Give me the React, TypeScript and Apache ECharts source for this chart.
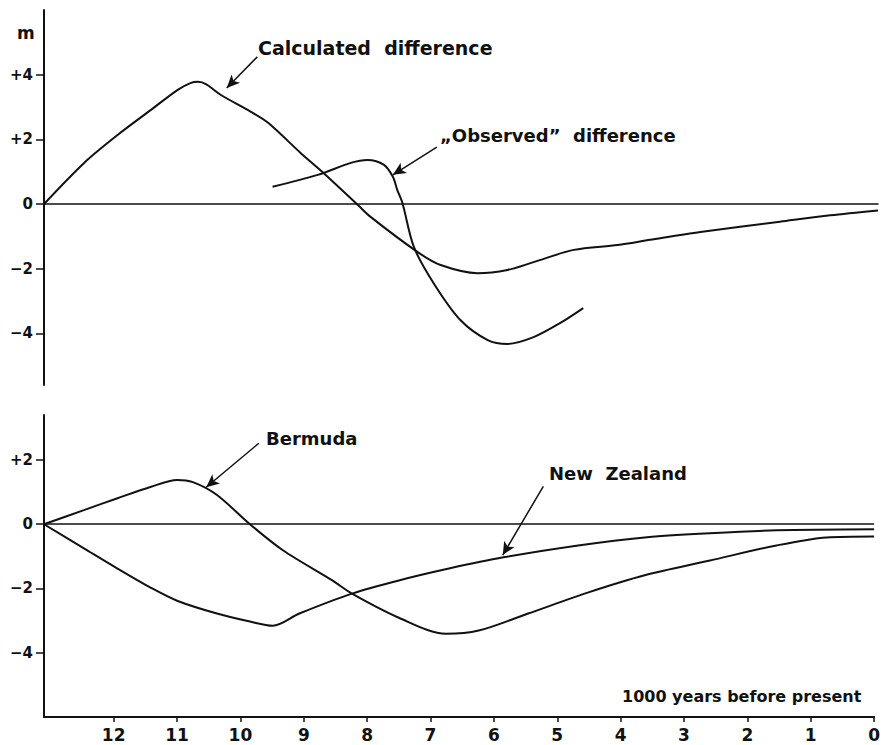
import React, { useEffect, useRef } from "react";
import * as echarts from "echarts";

// ---- Data (x = 1000 years before present, y = metres) ----
const xTicks = [0, 1, 2, 3, 4, 5, 6, 7, 8, 9, 10, 11, 12];
const yTicksTop = [-4, -2, 0, 2, 4];
const yTicksBottom = [-4, -2, 0, 2];

const calculatedX = [13.1, 12.47, 11.94, 11.42, 11.0, 10.8, 10.68, 10.55, 10.32, 9.85, 9.58, 9.07, 8.71, 8.17, 7.97, 7.23, 6.87, 6.29, 5.82, 5.41, 4.78, 4.09, 3.58, 2.79, 1.54, 0.75, 0];
const calculatedY = [0, 1.27, 2.14, 2.91, 3.53, 3.74, 3.78, 3.7, 3.37, 2.85, 2.51, 1.58, 0.96, -0.03, -0.4, -1.49, -1.89, -2.14, -2.04, -1.8, -1.42, -1.27, -1.11, -0.87, -0.55, -0.35, -0.2];

const observedX = [9.51, 8.8, 8.28, 8.02, 7.76, 7.62, 7.55, 7.47, 7.29, 6.98, 6.56, 6.13, 5.82, 5.41, 4.99, 4.63];
const observedY = [0.53, 0.9, 1.27, 1.36, 1.21, 0.84, 0.43, 0.03, -1.33, -2.45, -3.59, -4.21, -4.33, -4.12, -3.68, -3.22];

const bermudaX = [13.1, 12.47, 11.94, 11.42, 11.0, 10.75, 10.37, 9.85, 9.33, 8.55, 8.24, 7.5, 6.76, 6.24, 5.46, 4.52, 3.62, 2.59, 1.54, 0.75, 0];
const bermudaY = [0, 0.44, 0.81, 1.16, 1.38, 1.31, 0.91, 0, -0.81, -1.75, -2.16, -2.91, -3.41, -3.31, -2.78, -2.13, -1.59, -1.13, -0.66, -0.41, -0.38];

const newZealandX = [13.1, 12.47, 11.94, 11.42, 11.0, 10.37, 9.85, 9.49, 9.07, 8.24, 7.5, 6.71, 5.85, 4.67, 3.62, 2.59, 1.54, 0];
const newZealandY = [0, -0.75, -1.38, -1.97, -2.38, -2.78, -3.03, -3.16, -2.78, -2.16, -1.75, -1.38, -1.03, -0.66, -0.41, -0.28, -0.19, -0.16];

// annotation arrows (data coordinates: [from, to])
const calculatedArrow = [[9.75, 4.55], [10.23, 3.59]];
const observedArrow = [[6.93, 1.76], [7.62, 0.9]];
const bermudaArrow = [[9.71, 2.52], [10.54, 1.15]];
const newZealandArrow = [[5.22, 1.18], [5.86, -0.96]];

const zip = (xs: number[], ys: number[]) => xs.map((x, i) => [x, ys[i]]);

const FONT = "DejaVu Sans";
const INK = "#111";

const fmtY = (v: number) => (v > 0 ? "+" + v : v < 0 ? "\u2212" + Math.abs(v) : "0");

const arrowLine = (a: number[][]) => [
  { coord: a[0], symbol: "none" },
  { coord: a[1], symbol: "arrow", symbolSize: [9, 13] },
];

export default function App() {
  const ref = useRef<HTMLDivElement>(null);
  useEffect(() => {
    if (!ref.current) return;
    const chart = echarts.init(ref.current, undefined, { renderer: "svg" });
    const lineStyle = { color: INK, width: 2 };
    const yAxisBase = (gridIndex: number, min: number, max: number, ticks: number[]) => ({
      type: "value",
      gridIndex,
      min,
      max,
      axisLine: { show: true, onZero: false, lineStyle: { color: INK, width: 2 } },
      axisTick: { show: true, customValues: ticks, length: 8, lineStyle: { color: INK, width: 1.5 } },
      axisLabel: {
        customValues: ticks,
        formatter: fmtY,
        margin: 11,
        color: INK,
        fontFamily: FONT,
        fontWeight: "bold",
        fontSize: 15,
      },
      splitLine: { show: false },
    });
    const markLineBase = {
      silent: true,
      animation: false,
      label: { show: false },
      lineStyle: { color: INK, width: 1.5, type: "solid" },
      emphasis: { disabled: true },
    };
    chart.setOption({
      animation: false,
      backgroundColor: "#fff",
      grid: [
        { left: 44, top: 10, width: 834, height: 375 },
        { left: 44, top: 415, width: 834, height: 302 },
      ],
      xAxis: [
        {
          type: "value",
          gridIndex: 0,
          min: 0,
          max: 13.1,
          inverse: true,
          axisLine: { show: true, onZero: true, lineStyle: { color: INK, width: 1.5 } },
          axisTick: { show: false },
          axisLabel: { show: false },
          splitLine: { show: false },
        },
        {
          type: "value",
          gridIndex: 1,
          min: 0,
          max: 13.1,
          inverse: true,
          position: "bottom",
          axisLine: { show: true, onZero: false, lineStyle: { color: INK, width: 2 } },
          axisTick: { show: true, customValues: xTicks, length: 5, lineStyle: { color: INK, width: 1.5 } },
          axisLabel: {
            customValues: xTicks,
            margin: 9,
            color: INK,
            fontFamily: FONT,
            fontWeight: "bold",
            fontSize: 17,
          },
          splitLine: { show: false },
        },
      ],
      yAxis: [yAxisBase(0, -5.6, 6.0, yTicksTop), yAxisBase(1, -6, 3.4, yTicksBottom)],
      series: [
        {
          name: "Calculated difference",
          type: "line",
          xAxisIndex: 0,
          yAxisIndex: 0,
          data: zip(calculatedX, calculatedY),
          showSymbol: false,
          smooth: 0.3,
          lineStyle,
          markLine: { ...markLineBase, data: [arrowLine(calculatedArrow)] },
        },
        {
          name: "\u201EObserved\u201D difference",
          type: "line",
          xAxisIndex: 0,
          yAxisIndex: 0,
          data: zip(observedX, observedY),
          showSymbol: false,
          smooth: 0.3,
          lineStyle,
          markLine: { ...markLineBase, data: [arrowLine(observedArrow)] },
        },
        {
          name: "Bermuda",
          type: "line",
          xAxisIndex: 1,
          yAxisIndex: 1,
          data: zip(bermudaX, bermudaY),
          showSymbol: false,
          smooth: 0.3,
          lineStyle,
          markLine: {
            ...markLineBase,
            symbol: ["none", "none"],
            data: [
              { yAxis: 0, lineStyle: { color: INK, width: 1.5 } },
              arrowLine(bermudaArrow),
            ],
          },
        },
        {
          name: "New Zealand",
          type: "line",
          xAxisIndex: 1,
          yAxisIndex: 1,
          data: zip(newZealandX, newZealandY),
          showSymbol: false,
          smooth: 0.3,
          lineStyle,
          markLine: { ...markLineBase, data: [arrowLine(newZealandArrow)] },
        },
      ],
      graphic: [
        { type: "text", x: 17, y: 33, style: { text: "m", fill: INK, fontFamily: FONT, fontWeight: "bold", fontSize: 17, verticalAlign: "middle" } },
        { type: "text", x: 258, y: 48, style: { text: "Calculated  difference", fill: INK, fontFamily: FONT, fontWeight: "bold", fontSize: 19, verticalAlign: "middle" } },
        { type: "text", x: 440, y: 135, style: { text: "\u201EObserved\u201D  difference", fill: INK, fontFamily: FONT, fontWeight: "bold", fontSize: 18, verticalAlign: "middle" } },
        { type: "text", x: 266, y: 438, style: { text: "Bermuda", fill: INK, fontFamily: FONT, fontWeight: "bold", fontSize: 18, verticalAlign: "middle" } },
        { type: "text", x: 549, y: 473, style: { text: "New  Zealand", fill: INK, fontFamily: FONT, fontWeight: "bold", fontSize: 18, verticalAlign: "middle" } },
        { type: "text", x: 622, y: 696, style: { text: "1000 years before present", fill: INK, fontFamily: FONT, fontWeight: "bold", fontSize: 16, verticalAlign: "middle" } },
      ],
    });
    return () => chart.dispose();
  }, []);
  return (
    <div
      ref={ref}
      style={{ position: "fixed", left: 0, top: 0, width: 883, height: 745, background: "#fff" }}
    />
  );
}
